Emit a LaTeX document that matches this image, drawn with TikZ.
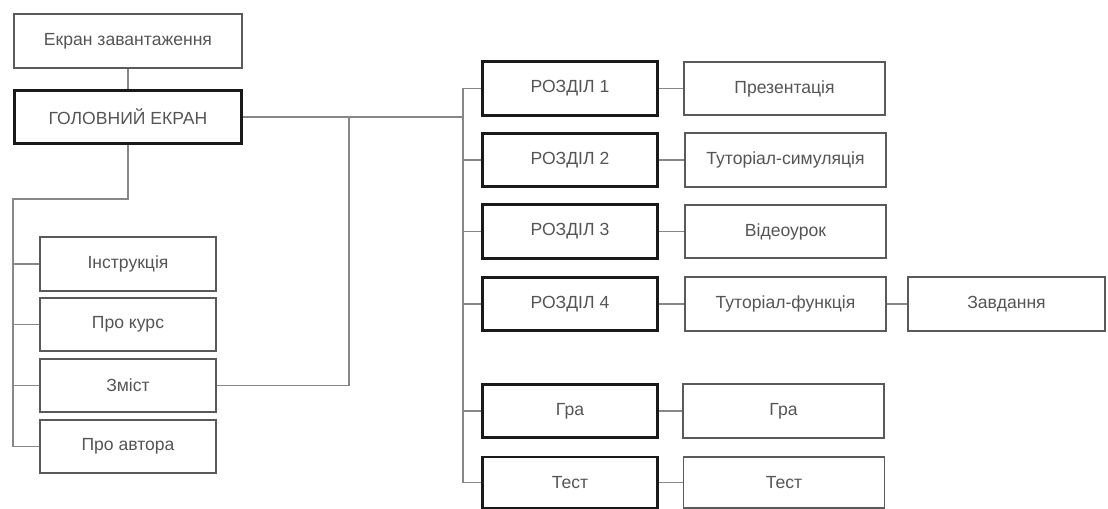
\documentclass[tikz,border=0pt]{standalone}
\usepackage{fontspec}
\setmainfont{Liberation Sans}
\usepackage{tikz}

\begin{document}
\begin{tikzpicture}[x=0.02cm,y=-0.02cm,
  box/.style={draw={rgb,255:red,90;green,90;blue,90}, line width=1.1pt, fill=white,
    text={rgb,255:red,85;green,85;blue,85}, font=\fontsize{10}{12}\selectfont,
    inner sep=0pt, minimum height=1.07cm},
  boldbox/.style={box, draw={rgb,255:red,25;green,25;blue,25}, line width=1.7pt},
  link/.style={draw={rgb,255:red,135;green,135;blue,135}, line width=0.85pt}]
\useasboundingbox[fill=white] (0,0) rectangle (1108,509);

% left part
\node[box, minimum width=4.56cm] (load) at (128,41) {Екран завантаження};
\node[boldbox, minimum width=4.56cm] (main) at (128,117) {ГОЛОВНИЙ ЕКРАН};
\node[box, minimum width=3.52cm] (instr) at (128,264) {Інструкція};
\node[box, minimum width=3.52cm] (course) at (128,324.5) {Про курс};
\node[box, minimum width=3.52cm] (content) at (128,385.5) {Зміст};
\node[box, minimum width=3.52cm] (author) at (128,446.5) {Про автора};

% sections
\node[boldbox, minimum width=3.52cm] (sec1) at (570,88.5) {РОЗДІЛ 1};
\node[boldbox, minimum width=3.52cm] (sec2) at (570,160) {РОЗДІЛ 2};
\node[boldbox, minimum width=3.52cm] (sec3) at (570,231.5) {РОЗДІЛ 3};
\node[boldbox, minimum width=3.52cm] (sec4) at (570,304) {РОЗДІЛ 4};
\node[boldbox, minimum width=3.52cm] (game) at (570,411) {Гра};
\node[boldbox, minimum width=3.52cm, minimum height=1.02cm] (test) at (570,482.5) {Тест};

\node[box, minimum width=4.02cm] (pres) at (784.5,88.5) {Презентація};
\node[box, minimum width=4.02cm] (sim) at (785.5,160) {Туторіал-симуляція};
\node[box, minimum width=4.02cm] (video) at (785.5,231.5) {Відеоурок};
\node[box, minimum width=4.02cm] (func) at (785.5,304) {Туторіал-функція};
\node[box, minimum width=3.94cm] (task) at (1006.5,304) {Завдання};
\node[box, minimum width=4.02cm] (game2) at (783.5,411) {Гра};
\node[box, minimum width=4.02cm, minimum height=1.02cm] (test2) at (784,482.5) {Тест};

\coordinate (lbus) at (13,199);
\coordinate (rbus) at (463,117);
\coordinate (mid) at (349,117);

\draw[link] (load)--(main);
\draw[link] (main.south)--(main.south |- lbus)--(lbus)--(lbus |- author);
\foreach \n in {instr,course,content,author}
  \draw[link] (lbus |- \n)--(\n.west);
\draw[link] (main.east)--(rbus);
\draw[link] (rbus |- sec1)--(rbus |- test);
\draw[link] (content.east)--(mid |- content)--(mid);
\foreach \n in {sec1,sec2,sec3,sec4,game,test}
  \draw[link] (rbus |- \n)--(\n.west);
\draw[link] (sec1)--(pres); \draw[link] (sec2)--(sim); \draw[link] (sec3)--(video);
\draw[link] (sec4)--(func); \draw[link] (func)--(task);
\draw[link] (game)--(game2); \draw[link] (test)--(test2);

\end{tikzpicture}
\end{document}
